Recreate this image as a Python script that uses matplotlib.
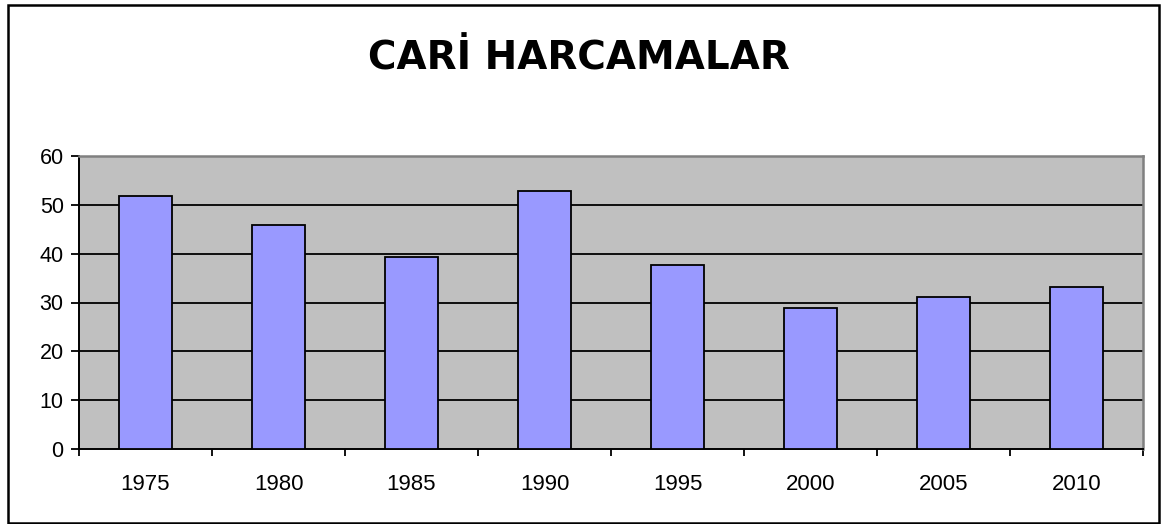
import matplotlib
matplotlib.use("Agg")
from matplotlib import pyplot as plt
from matplotlib.patches import Rectangle
import numpy as np

years = ["1975", "1980", "1985", "1990", "1995", "2000", "2005", "2010"]
values = [51.8, 45.9, 39.3, 52.9, 37.7, 28.8, 31.1, 33.1]
yticks = [0, 10, 20, 30, 40, 50, 60]

plt.rcParams['font.family'] = ['Liberation Sans', 'DejaVu Sans']

W, H = 1163, 524
fig = plt.figure(figsize=(W / 100, H / 100), dpi=100)
ax = fig.add_axes([79 / W, 1 - 449 / H, (1143 - 79) / W, (449 - 156) / H])

# outer frame round the whole chart
fig.patches.append(Rectangle((7.5 / W, 1 - 522.5 / H), 1151 / W, 517.5 / H,
                             transform=fig.transFigure, fill=False,
                             edgecolor='black', linewidth=1.8))

x = np.arange(len(years))
ax.set_facecolor('#C0C0C0')
ax.bar(x, values, width=0.4, color='#9999FF', edgecolor='black', linewidth=1.3, zorder=3)

ax.set_ylim(0, 60)
ax.set_xlim(-0.5, len(years) - 0.5)
ax.set_yticks(yticks)
ax.set_yticklabels([str(t) for t in yticks], fontsize=15.5)
for t in yticks[1:-1]:
    ax.axhline(t, color='black', linewidth=1.3, zorder=1)

# category ticks sit between the bars, labels at the centres
ax.set_xticks(np.arange(len(years) + 1) - 0.5)
ax.set_xticklabels([])
ax.set_xticks(x, minor=True)
ax.set_xticklabels(years, minor=True, fontsize=16)
ax.tick_params(axis='x', which='major', length=5, width=1.3, direction='out')
ax.tick_params(axis='x', which='minor', length=0, pad=18)
ax.tick_params(axis='y', length=6, width=1.3, direction='out', pad=5)

for side in ['left', 'bottom']:
    ax.spines[side].set_color('black')
    ax.spines[side].set_linewidth(1.4)
for side in ['top', 'right']:
    ax.spines[side].set_color('#808080')
    ax.spines[side].set_linewidth(1.8)

fig.text(579 / W, 1 - 58.5 / H, "CARİ HARCAMALAR", ha='center', va='center',
         fontsize=28, fontweight='bold', family=['DejaVu Sans'])

fig.savefig("out.png", dpi=100)
